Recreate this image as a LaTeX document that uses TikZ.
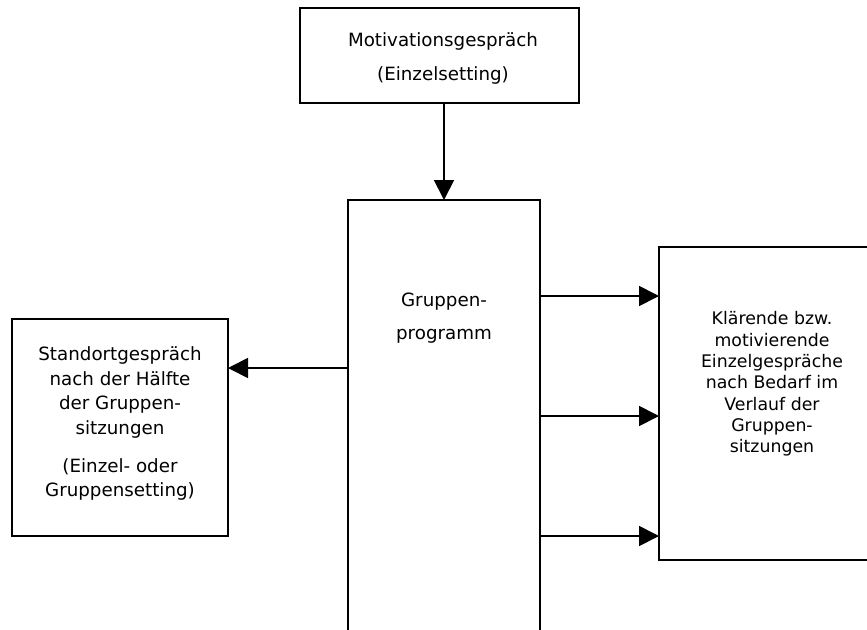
\documentclass[tikz,border=0pt]{standalone}
\usepackage{fontspec}
\setmainfont{DejaVu Sans}
\usetikzlibrary{arrows.meta,fit}
\begin{document}
\begin{tikzpicture}[x=0.75pt,y=-0.75pt,
  box/.style={draw,line width=1pt,inner sep=0pt,outer sep=0pt},
  txt/.style={align=center,font=\fontsize{13.7}{25}\selectfont,inner sep=0pt},
  arr/.style={line width=1.3pt,-{Triangle[length=15pt,width=15pt]}}]
\useasboundingbox (0,0) rectangle (867,629);
\clip (0,0) rectangle (867,629);
% boxes
\node[box,fit={(300,8) (579,103)}] (motiv) {};
\node[box,fit={(348,200) (540,700)}] (prog) {};
\node[box,fit={(12,319) (228,536)}] (stand) {};
\node[box,fit={(659,247) (900,560)}] (klar) {};
% texts
\node[txt] (tmotiv) at (443,58.5) {Motivationsgespräch\\(Einzelsetting)};
\node[txt] (tprog) at (444,318) {Gruppen-\\programm};
\node[txt,font=\fontsize{13.7}{18.4}\selectfont] (tstand) at (120,423.5)
  {Standortgespräch\\nach der Hälfte\\der Gruppen-\\sitzungen\\[10pt](Einzel- oder\\Gruppensetting)};
\node[txt,font=\fontsize{13}{16}\selectfont] (tklar) at (772,384)
  {Klärende bzw.\\motivierende\\Einzelgespräche\\nach Bedarf im\\Verlauf der\\Gruppen-\\sitzungen};
% arrow levels
\coordinate (yl) at (0,368);
\coordinate (y1) at (0,296);
\coordinate (y2) at (0,416);
\coordinate (y3) at (0,536);
% connectors
\draw[arr] (motiv.south -| prog.north) -- (prog.north);
\draw[arr] (prog.west |- yl) -- (stand.east |- yl);
\draw[arr] (prog.east |- y1) -- (klar.west |- y1);
\draw[arr] (prog.east |- y2) -- (klar.west |- y2);
\draw[arr] (prog.east |- y3) -- (klar.west |- y3);
\end{tikzpicture}
\end{document}
